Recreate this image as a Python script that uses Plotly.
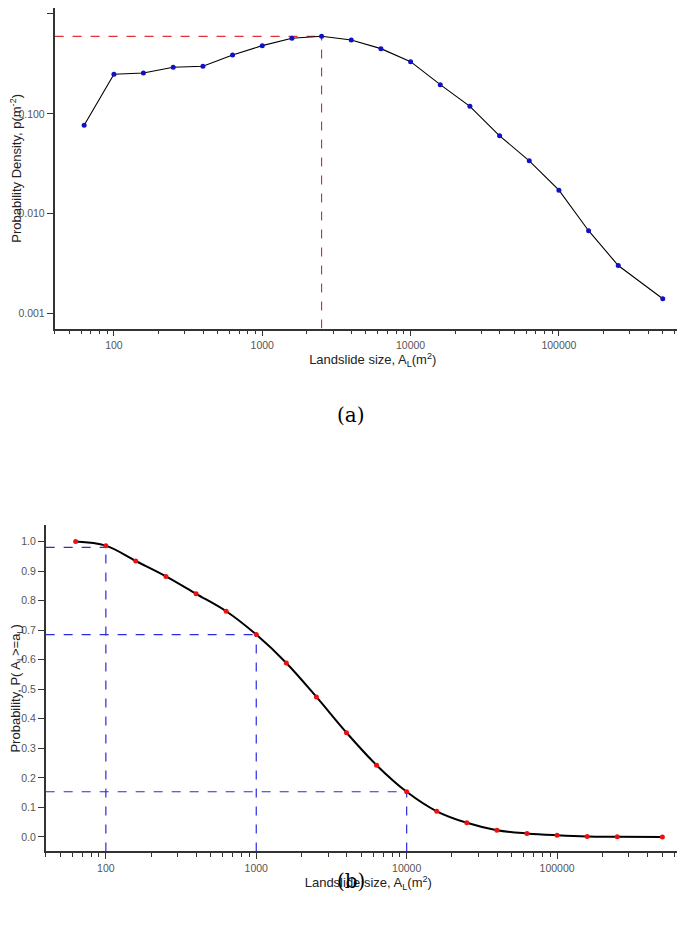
import plotly.graph_objects as go

sizes = [63, 100, 158, 251, 398, 631, 1000, 1585, 2512, 3981, 6310, 10000,
         15849, 25119, 39811, 63096, 100000, 158489, 251189, 501187]
density = [0.077, 0.249, 0.257, 0.293, 0.300, 0.389, 0.482, 0.571, 0.598, 0.549,
           0.450, 0.333, 0.196, 0.119, 0.0603, 0.0339, 0.0172, 0.00676, 0.00303, 0.00141]
exceed = [1.0, 0.986, 0.934, 0.882, 0.823, 0.764, 0.685, 0.589, 0.474, 0.353,
          0.243, 0.153, 0.087, 0.048, 0.023, 0.012, 0.006, 0.002, 0.001, 0.0]
peak_size, peak_density = 2512, 0.598
ref_sizes = [100, 1000, 10000]
ref_probs = [0.98, 0.685, 0.153]
x_ticks = [100, 1000, 10000, 100000]
y_ticks_a = [0.001, 0.01, 0.1, 1.0]
y_ticks_a_text = ["0.001", "0.010", "0.100", "1.000"]
y_ticks_b = [i / 10 for i in range(11)]

fig = go.Figure()
xmin = 10 ** 1.6
ymin_a = 10 ** -3.15
fig.add_trace(go.Scatter(x=[xmin, peak_size], y=[peak_density, peak_density], mode="lines",
                         line=dict(color="#e0303a", dash="dash", width=1.3), xaxis="x", yaxis="y", showlegend=False))
fig.add_trace(go.Scatter(x=[peak_size, peak_size], y=[ymin_a, peak_density], mode="lines",
                         line=dict(color="#c0302a", dash="dash", width=1.1), xaxis="x", yaxis="y", showlegend=False))
fig.add_trace(go.Scatter(x=sizes, y=density, mode="lines+markers", line=dict(color="black", width=1.1),
                         marker=dict(color="#1010c8", size=5), xaxis="x", yaxis="y", showlegend=False))

for s, p in zip(ref_sizes, ref_probs):
    fig.add_trace(go.Scatter(x=[xmin, s], y=[p, p], mode="lines", line=dict(color="#2a2ae0", dash="dash", width=1.2),
                             xaxis="x2", yaxis="y2", showlegend=False))
    fig.add_trace(go.Scatter(x=[s, s], y=[-0.049, p], mode="lines", line=dict(color="#2a2ae0", dash="dash", width=1.2),
                             xaxis="x2", yaxis="y2", showlegend=False))
fig.add_trace(go.Scatter(x=sizes, y=exceed, mode="lines+markers", line=dict(color="black", width=2, shape="spline"),
                         marker=dict(color="#ee1010", size=5), xaxis="x2", yaxis="y2", showlegend=False))

tf = dict(family="Liberation Sans, Arial", size=10.5, color="#555")
xcommon = dict(type="log", range=[1.6, 5.89], tickvals=x_ticks, ticktext=[str(v) for v in x_ticks],
               ticks="outside", ticklen=6, tickcolor="#333", showline=True, linecolor="#333", linewidth=1.5,
               showgrid=False, zeroline=False, tickfont=tf, automargin=False,
               minor=dict(ticks="outside", ticklen=4, tickcolor="#333", dtick="D1", showgrid=False))
ycommon = dict(ticks="outside", ticklen=6, tickcolor="#333", showline=True, linecolor="#333", linewidth=1.5,
               showgrid=False, zeroline=False, tickfont=tf, automargin=False)
tfont = dict(family="Liberation Sans, Arial", size=13, color="#222")

fig.update_layout(
    width=685, height=932, margin=dict(l=0, r=0, t=0, b=0),
    paper_bgcolor="white", plot_bgcolor="white",
    xaxis=dict(**xcommon, domain=[0.068, 0.997], anchor="y",
               title=dict(text="Landslide size, A<sub>L</sub>(m<sup>2</sup>)", font=tfont, standoff=4)),
    yaxis=dict(**ycommon, type="log", range=[-3.15, 0.06], domain=[0.656, 1.0], anchor="x",
               tickvals=y_ticks_a, ticktext=y_ticks_a_text,
               title=dict(text="Probability Density, p(m<sup>-2</sup>)", font=tfont, standoff=8)),
    xaxis2=dict(**xcommon, domain=[0.055, 0.997], anchor="y2",
                title=dict(text="Landslide size, A<sub>L</sub>(m<sup>2</sup>)", font=tfont, standoff=4)),
    yaxis2=dict(**ycommon, range=[-0.049, 1.055], domain=[0.095, 0.445], anchor="x2",
                tickvals=y_ticks_b, ticktext=[f"{v:.1f}" for v in y_ticks_b],
                title=dict(text="Probability, P( A<sub>L</sub>>=a<sub>L</sub>)", font=tfont, standoff=10)),
    annotations=[
        dict(text="(a)", x=0.5, y=1 - 407 / 932, xref="paper", yref="paper", showarrow=False,
             font=dict(family="DejaVu Serif", size=20, color="black")),
        dict(text="(b)", x=0.5, y=1 - 887 / 932, xref="paper", yref="paper", showarrow=False,
             font=dict(family="DejaVu Serif", size=20, color="black")),
    ],
)
fig.write_html("out.html")
